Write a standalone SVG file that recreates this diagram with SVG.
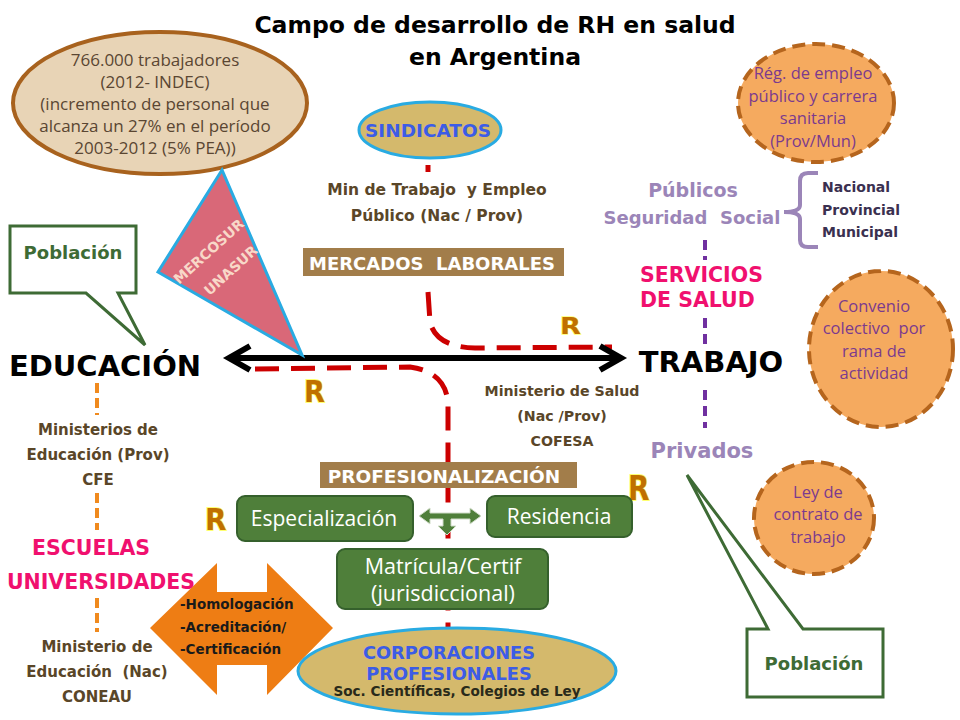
<svg xmlns="http://www.w3.org/2000/svg" width="960" height="720" viewBox="0 0 960 720">
<style>
text{font-family:"DejaVu Sans","Liberation Sans",sans-serif;white-space:pre}
.b{font-weight:bold}
.title{font-size:23.5px;font-weight:bold;fill:#000}
.brown{fill:#5a4628;font-size:15px;font-weight:bold}
.oval1{fill:#5a4632;font-size:17px;font-family:"Open Sans","DejaVu Sans",sans-serif}
.purp{fill:#7b3a8e;font-size:16.5px;font-family:"Open Sans","DejaVu Sans",sans-serif}
.pink{fill:#f0106e;font-size:20.5px;font-weight:bold}
.lav{fill:#9b85b8;font-size:19px;font-weight:bold}
.big{font-size:29px;font-weight:bold;fill:#000}
.lab{fill:#fff;font-size:18.5px;font-weight:bold}
.lbox{fill:#a27d4a}
.gbox{fill:#4f7f3a;stroke:#35602c;stroke-width:2}
.gtxt{fill:#fff;font-size:21px;font-family:"Open Sans","DejaVu Sans",sans-serif}
.R{font-size:34px;font-weight:bold;fill:#c07000;stroke:#ffff70;stroke-width:2;paint-order:stroke;font-family:"DejaVu Sans","Liberation Sans",sans-serif}
.dorange{fill:#f5aa5f;stroke:#b5651d;stroke-width:4;stroke-dasharray:13 7}
.pob{fill:#fff;stroke:#3e6b35;stroke-width:3}
.pobt{fill:#3e6b35;font-size:18px;font-weight:bold}
.red{fill:none;stroke:#cc0000;stroke-width:5;stroke-dasharray:24 12}
.mint{fill:#d4b96c;stroke:#29abe2;stroke-width:3}
.blue{fill:#3c5ce6;font-size:17.8px;font-weight:bold}
</style>

<g id="title">
<text class="title" x="495" y="33" text-anchor="middle">Campo de desarrollo de RH en salud</text>
<text class="title" x="495" y="65" text-anchor="middle">en Argentina</text>
</g>

<g id="connectors">
<path class="red" d="M428,292 L430,322 Q436,347 475,348 L612,347"/>
<path class="red" d="M255,369 L410,367 Q447,372 448,405 L448,632"/>
<path d="M428,165 L428,172" stroke="#cc0000" stroke-width="5"/>
<g stroke="#000" stroke-width="6" fill="none" stroke-linejoin="miter">
<path d="M230,358 L618,358"/>
<polyline points="250,346 229,358 250,370"/>
<polyline points="600,346 621,358 600,370"/>
</g>
<g stroke="#f08a1e" stroke-width="4" stroke-dasharray="10 5" fill="none">
<path d="M97,383 L97,415"/>
<path d="M97,493 L97,530"/>
<path d="M97,598 L97,632"/>
</g>
<g stroke="#7030a0" stroke-width="4" stroke-dasharray="10 6" fill="none">
<path d="M705,240 L705,260"/>
<path d="M705,318 L705,350"/>
<path d="M705,390 L705,428"/>
</g>
</g>

<g id="oval-trabajadores">
<ellipse cx="160" cy="103" rx="147" ry="71" fill="#e8d4b6" stroke="#a8621e" stroke-width="4"/>
<text class="oval1" text-anchor="middle"><tspan x="155" y="66">766.000 trabajadores</tspan><tspan x="155" y="88">(2012- INDEC)</tspan><tspan x="155" y="110">(incremento de personal que</tspan><tspan x="155" y="132">alcanza un 27% en el período</tspan><tspan x="155" y="154">2003-2012 (5% PEA))</tspan></text>
</g>

<g id="mercosur">
<polygon points="222,170 158,272 302,355" fill="#d96878" stroke="#29abe2" stroke-width="3"/>
<text class="b" font-size="14" fill="#f8d8c8" transform="translate(212,255) rotate(-42)" text-anchor="middle">MERCOSUR</text>
<text class="b" font-size="14" fill="#f8d8c8" transform="translate(234,274) rotate(-42)" text-anchor="middle">UNASUR</text>
</g>

<g id="poblacion-left">
<path class="pob" d="M10,226 L136,226 L136,293 L118,293 L145,345 L86,293 L10,293 Z"/>
<text class="pobt" x="73" y="259" text-anchor="middle">Población</text>
</g>

<g id="educacion">
<text class="big" x="105" y="376" text-anchor="middle">EDUCACIÓN</text>
</g>

<g id="min-educ-prov">
<text class="brown" text-anchor="middle"><tspan x="98" y="435">Ministerios de</tspan><tspan x="98" y="460">Educación (Prov)</tspan><tspan x="98" y="485">CFE</tspan></text>
</g>

<g id="escuelas">
<text class="pink" x="91" y="555" text-anchor="middle">ESCUELAS</text>
<text class="pink" x="101" y="589" text-anchor="middle">UNIVERSIDADES</text>
</g>

<g id="min-educ-nac">
<text class="brown" text-anchor="middle"><tspan x="97" y="652">Ministerio de</tspan><tspan x="97" y="677">Educación  (Nac)</tspan><tspan x="97" y="702">CONEAU</tspan></text>
</g>

<g id="homologacion">
<polygon points="150,628 217,563 217,592 267,592 267,563 333,628 267,695 267,665 217,665 217,695" fill="#ee7d14"/>
<text class="b" font-size="13.5" fill="#1a1a1a"><tspan x="180" y="609">-Homologación</tspan><tspan x="180" y="632">-Acreditación/</tspan><tspan x="180" y="654">-Certificación</tspan></text>
</g>

<g id="sindicatos">
<ellipse class="mint" cx="430" cy="130" rx="71" ry="28"/>
<text class="blue" style="font-size:18.5px" x="428" y="137" text-anchor="middle">SINDICATOS</text>
</g>

<g id="min-trabajo">
<text class="brown" style="font-size:15.5px" text-anchor="middle"><tspan x="437" y="195">Min de Trabajo  y Empleo</tspan><tspan x="437" y="221">Público (Nac / Prov)</tspan></text>
</g>

<g id="mercados">
<rect class="lbox" x="303" y="248" width="261" height="28"/>
<text class="lab" style="font-size:18px" x="432" y="270" text-anchor="middle">MERCADOS  LABORALES</text>
</g>

<g id="R-marks">
<text class="R" transform="translate(560,334) scale(0.8,0.7)">R</text>
<text class="R" transform="translate(304,402) scale(0.8,0.88)">R</text>
<text class="R" transform="translate(628,500) scale(0.82,1.0)">R</text>
<text class="R" transform="translate(205,530) scale(0.82,0.9)">R</text>
</g>

<g id="reg-empleo">
<ellipse class="dorange" cx="816" cy="103" rx="78" ry="59"/>
<text class="purp" text-anchor="middle"><tspan x="813" y="79">Rég. de empleo</tspan><tspan x="813" y="102">público y carrera</tspan><tspan x="813" y="124">sanitaria</tspan><tspan x="813" y="147">(Prov/Mun)</tspan></text>
</g>

<g id="publicos">
<text class="lav" x="693" y="197" text-anchor="middle">Públicos</text>
<text class="lav" style="font-size:18px" x="692" y="224" text-anchor="middle">Seguridad  Social</text>
<path d="M818,173 L808,173 Q800,173 800,181 L800,205 Q800,212 784,212 Q800,212 800,219 L800,240 Q800,247 808,247 L818,247" fill="none" stroke="#9b85b8" stroke-width="4"/>
<text class="b" font-size="14" fill="#3a3050"><tspan x="822" y="192">Nacional</tspan><tspan x="822" y="215">Provincial</tspan><tspan x="822" y="237">Municipal</tspan></text>
</g>

<g id="servicios">
<text class="pink" x="640" y="282">SERVICIOS</text>
<text class="pink" x="640" y="307">DE SALUD</text>
</g>

<g id="trabajo">
<text class="big" x="711" y="372" text-anchor="middle">TRABAJO</text>
</g>

<g id="convenio">
<ellipse class="dorange" cx="881" cy="349" rx="72" ry="78"/>
<text class="purp" text-anchor="middle"><tspan x="874" y="312">Convenio</tspan><tspan x="874" y="334">colectivo  por</tspan><tspan x="874" y="357">rama de</tspan><tspan x="874" y="379">actividad</tspan></text>
</g>

<g id="min-salud">
<text class="brown" style="font-size:14.2px" text-anchor="middle"><tspan x="562" y="396">Ministerio de Salud</tspan><tspan x="562" y="421">(Nac /Prov)</tspan><tspan x="562" y="446">COFESA</tspan></text>
</g>

<g id="privados">
<text class="lav" style="font-size:21px" x="702" y="458" text-anchor="middle">Privados</text>
</g>

<g id="ley-contrato">
<ellipse class="dorange" cx="814" cy="518" rx="60" ry="56"/>
<text class="purp" text-anchor="middle"><tspan x="818" y="498">Ley de</tspan><tspan x="818" y="520">contrato de</tspan><tspan x="818" y="543">trabajo</tspan></text>
</g>

<g id="poblacion-right">
<path class="pob" d="M747,629 L768,629 L687,475 L803,629 L883,629 L883,697 L747,697 Z"/>
<text class="pobt" x="814" y="670" text-anchor="middle">Población</text>
</g>

<g id="profesionalizacion">
<rect class="lbox" x="320" y="462" width="257" height="26"/>
<text class="lab" x="444" y="483" text-anchor="middle">PROFESIONALIZACIÓN</text>
</g>

<g id="especializacion">
<rect class="gbox" x="237" y="496" width="176" height="45" rx="8"/>
<text class="gtxt" x="324" y="526" text-anchor="middle">Especialización</text>
</g>

<g id="residencia">
<rect class="gbox" x="487" y="496" width="145" height="41" rx="8"/>
<text class="gtxt" x="559" y="524" text-anchor="middle">Residencia</text>
</g>

<g id="flecha-verde">
<path d="M419,516 L430,508 L430,513 L470,513 L470,508 L481,516 L470,524 L470,519 L451,519 L451,526 L456,526 L447,535 L438,526 L443,526 L443,519 L430,519 L430,524 Z" fill="#4f7f3a" stroke="#d0dcc8" stroke-width="1"/>
</g>

<g id="matricula">
<rect class="gbox" x="337" y="549" width="211" height="60" rx="8"/>
<text class="gtxt" style="font-size:21.5px" text-anchor="middle"><tspan x="443" y="574">Matrícula/Certif</tspan><tspan x="443" y="601">(jurisdiccional)</tspan></text>
</g>

<g id="corporaciones">
<ellipse class="mint" cx="457" cy="671" rx="159" ry="43"/>
<text class="blue" text-anchor="middle"><tspan x="449" y="659">CORPORACIONES</tspan><tspan x="449" y="680">PROFESIONALES</tspan></text>
<text class="b" font-size="13.6" fill="#2a2a1a" x="457" y="696" text-anchor="middle">Soc. Científicas, Colegios de Ley</text>
</g>
</svg>
